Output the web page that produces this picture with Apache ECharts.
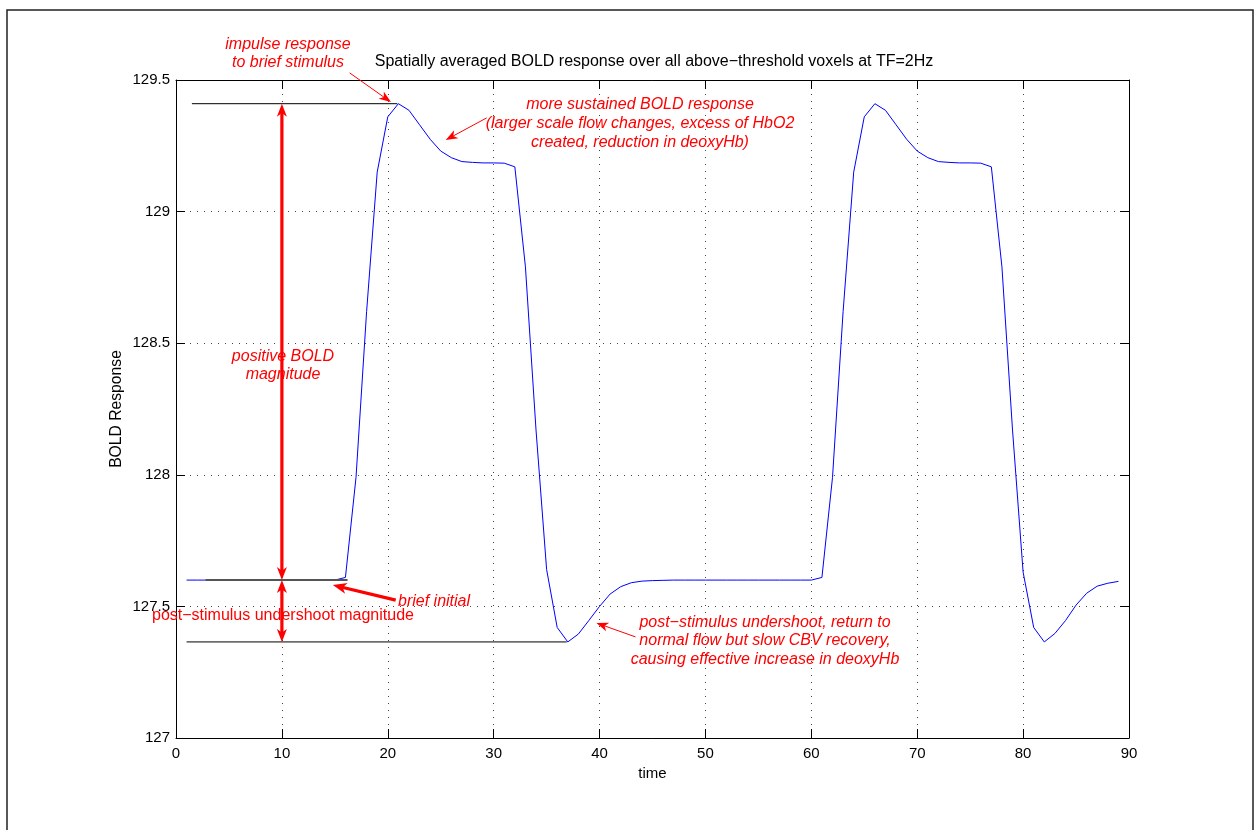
<!DOCTYPE html>
<html><head><meta charset="utf-8">
<script src="https://cdn.jsdelivr.net/npm/echarts@6/dist/echarts.min.js"></script>
<style>html,body{margin:0;padding:0;background:#fff}#c{width:1260px;height:830px}</style>
</head><body><div id="c"></div>
<script>
// ---- data ----
const time = [1,2,3,4,5,6,7,8,9,10,11,12,13,14,15,16,17,18,19,20,21,22,23,24,25,26,27,28,29,30,
  31,32,33,34,35,36,37,38,39,40,41,42,43,44,45,46,47,48,49,50,51,52,53,54,55,56,57,58,59,60,
  61,62,63,64,65,66,67,68,69,70,71,72,73,74,75,76,77,78,79,80,81,82,83,84,85,86,87,88,89];
const bold = [127.60,127.60,127.60,127.60,127.60,127.60,127.60,127.60,127.60,127.60,127.60,127.60,127.60,127.60,127.60,
  127.61,127.99,128.62,129.15,129.36,129.41,129.385,129.33,129.275,129.23,
  129.205,129.19,129.187,129.185,129.185,129.184,129.17,128.79,128.17,127.64,
  127.42,127.365,127.395,127.447,127.50,127.547,127.575,127.59,127.596,127.598,
  127.599,127.60,127.60,127.60,127.60,127.60,127.60,127.60,127.60,127.60,127.60,127.60,127.60,127.60,127.60,
  127.61,127.99,128.62,129.15,129.36,129.41,129.385,129.33,129.275,129.23,
  129.205,129.19,129.187,129.185,129.185,129.184,129.17,128.79,128.17,127.63,
  127.42,127.365,127.397,127.446,127.505,127.55,127.577,127.588,127.595];
const xTicks = [0,10,20,30,40,50,60,70,80,90];
const yTicks = [127,127.5,128,128.5,129,129.5];

// reference levels (black guide lines)
const peakLevel = 129.41, baseLevel = 127.60, minLevel = 127.365;
const refLines = [
  {from:[1.5, peakLevel], to:[20.9, peakLevel], color:'#000', width:1},
  {from:[1.0, minLevel], to:[36.9, minLevel], color:'#000', width:1},
  {from:[2.8, baseLevel], to:[16.2, baseLevel], color:'#555', width:2}
];
// annotation arrows (data coordinates)
const arrows = [
  {from:[16.4,129.527], to:[20.3,129.416], width:1, hl:12, hw:9, both:false},
  {from:[29.34,129.356], to:[25.47,129.272], width:1, hl:12, hw:9, both:false},
  {from:[20.75,127.524], to:[14.81,127.581], width:3.2, hl:14, hw:11, both:false},
  {from:[43.4,127.384], to:[39.7,127.437], width:1, hl:12, hw:9, both:false},
  {from:[10,baseLevel], to:[10,peakLevel], width:3.2, hl:13, hw:10, both:true},
  {from:[10,baseLevel], to:[10,minLevel], width:3.2, hl:13, hw:10, both:true}
];

const FONT = '"Liberation Sans", Arial, Helvetica, sans-serif';
const RED = '#ff0000';
const chart = echarts.init(document.getElementById('c'));

const axisCommon = {
  axisLine:{show:true, onZero:false, lineStyle:{color:'#000', width:1}},
  axisTick:{show:true, inside:true, length:9, lineStyle:{color:'#000'}},
};
const dotted = {show:true, lineStyle:{color:'#444', width:1, type:[1,6]}};

chart.setOption({
  animation:false,
  backgroundColor:'#fff',
  grid:{left:176, top:80, right:131, bottom:92, containLabel:false},
  xAxis:[
    Object.assign({type:'value', min:xTicks[0], max:xTicks[xTicks.length-1], interval:10, position:'bottom',
      axisLabel:{color:'#000', fontSize:15, fontFamily:FONT, margin:8},
      splitLine:dotted, name:'time', nameLocation:'middle', nameGap:26,
      nameTextStyle:{color:'#000', fontSize:15, fontFamily:FONT}}, axisCommon),
    Object.assign({type:'value', min:xTicks[0], max:xTicks[xTicks.length-1], interval:10, position:'top',
      axisLabel:{show:false}, splitLine:{show:false}}, axisCommon)
  ],
  yAxis:[
    Object.assign({type:'value', min:yTicks[0], max:yTicks[yTicks.length-1], interval:0.5, position:'left',
      axisLabel:{color:'#000', fontSize:15, fontFamily:FONT, margin:6},
      splitLine:dotted}, axisCommon),
    Object.assign({type:'value', min:yTicks[0], max:yTicks[yTicks.length-1], interval:0.5, position:'right',
      axisLabel:{show:false}, splitLine:{show:false}}, axisCommon)
  ],
  series:[
    {type:'line', xAxisIndex:0, yAxisIndex:0, data:time.map((t,i)=>[t,bold[i]]),
     showSymbol:false, symbol:'none', lineStyle:{color:'#0000ff', width:1}, z:3}
  ]
});

function px(p){ return chart.convertToPixel({xAxisIndex:0, yAxisIndex:0}, p); }

const g = [];
// outer frame
g.push({type:'rect', shape:{x:7, y:10, width:1246, height:900}, style:{fill:null, stroke:'#222', lineWidth:1.5}, z:0, silent:true});
// reference lines
refLines.forEach(r=>{
  const a=px(r.from), b=px(r.to);
  g.push({type:'line', shape:{x1:a[0],y1:a[1],x2:b[0],y2:b[1]}, style:{stroke:r.color, lineWidth:r.width}, z:10});
});
// arrows
function head(tip, ux, uy, hl, hw){
  const nx=-uy, ny=ux;
  const bx=tip[0]-ux*hl, by=tip[1]-uy*hl;
  const nt=[tip[0]-ux*hl*0.72, tip[1]-uy*hl*0.72];
  return {type:'polygon', shape:{points:[tip,[bx+nx*hw/2,by+ny*hw/2],nt,[bx-nx*hw/2,by-ny*hw/2]]},
    style:{fill:RED, stroke:null}, z:20};
}
arrows.forEach(a=>{
  const A=px(a.from), B=px(a.to);
  const dx=B[0]-A[0], dy=B[1]-A[1], L=Math.hypot(dx,dy), ux=dx/L, uy=dy/L;
  const s = a.both ? [A[0]+ux*a.hl*0.6, A[1]+uy*a.hl*0.6] : A;
  const e = [B[0]-ux*a.hl*0.6, B[1]-uy*a.hl*0.6];
  g.push({type:'line', shape:{x1:s[0],y1:s[1],x2:e[0],y2:e[1]}, style:{stroke:RED, lineWidth:a.width}, z:20});
  g.push(head(B, ux, uy, a.hl, a.hw));
  if(a.both) g.push(head(A, -ux, -uy, a.hl, a.hw));
});
// texts
function txt(text, x, y, opt){
  opt = opt || {};
  g.push({type:'text', x:x, y:y, z:30, rotation:opt.rot||0, style:{text:text, fill:opt.color||RED, fontSize:opt.size||16, fontFamily:FONT,
    fontStyle:opt.italic===false?'normal':'italic', textAlign:opt.align||'center', textVerticalAlign:'middle',
    lineHeight:opt.lh||18}});
}
txt('BOLD Response', 117, 409, {color:'#000', italic:false, rot:Math.PI/2, size:15.7});
txt('Spatially averaged BOLD response over all above\u2212threshold voxels at TF=2Hz', 654, 62, {color:'#000', italic:false});
txt('impulse response\nto brief stimulus', 288, 54);
txt('more sustained BOLD response\n(larger scale flow changes, excess of HbO2\ncreated, reduction in deoxyHb)', 640, 124, {lh:19});
txt('positive BOLD\nmagnitude', 283, 366);
txt('brief initial', 398, 602, {align:'left'});
txt('post\u2212stimulus undershoot magnitude', 152, 616, {align:'left', italic:false});
txt('post\u2212stimulus undershoot, return to\nnormal flow but slow CBV recovery,\ncausing effective increase in deoxyHb', 765, 641, {lh:18.5});

chart.setOption({graphic:g});
</script></body></html>
